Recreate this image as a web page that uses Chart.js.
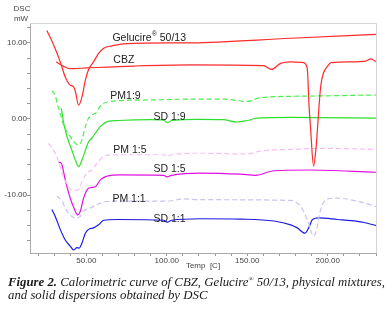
<!DOCTYPE html>
<html>
<head>
<meta charset="utf-8">
<script src="https://cdn.jsdelivr.net/npm/chart.js@4"></script>
<style>
    html, body { margin: 0; padding: 0; background: #fff; }
    #wrap { position: relative; width: 389px; height: 313px; }
    #caption {
        position: absolute; left: 8px; top: 276px;
        font: italic 12.8px "Liberation Serif", "Times New Roman", serif;
        line-height: 12.5px; color: #1a1a1a; white-space: nowrap;
    }
    #caption sup { font-size: 6.5px; line-height: 0; }
</style>
</head>
<body>
<div id="wrap">
    <canvas id="dsc" width="389" height="313"></canvas>
    <div id="caption"><b>Figure 2.</b> Calorimetric curve of CBZ, Gelucire<sup>®</sup> 50/13, physical mixtures,<br>and solid dispersions obtained by DSC</div>
</div>
<script>
(function () {
    "use strict";

    // [temp C, heat flow mW]
    const gelucire = [[25.5, 11.6], [29.5, 9.8], [33.8, 7.5], [36.9, 5.5], [39.6, 4.5], [42.1, 4.2], [43.2, 3.6], [45.2, 1.8], [47.3, 2.9], [49.4, 5.1], [51.4, 6.5], [54.5, 7.5], [57.6, 8.6], [60.8, 9.3], [66, 9.6], [75, 9.9], [115, 10.0], [177, 10.6], [230, 11.1]];
    const cbz = [[31.3, 7.5], [35.9, 6.9], [40, 6.6], [50.4, 6.7], [80, 6.95], [115, 7.1], [160, 7.0], [165, 6.5], [170.7, 7.3], [177, 7.5], [185, 7.4], [187.3, 6.6], [188.3, 2.1], [189.4, -1.4], [191.2, -6.2], [192.6, -4.1], [195.6, 4.2], [197.3, 6.0], [199.8, 6.9], [202, 7.4], [214, 7.5], [223.6, 7.6], [226.8, 7.9], [230, 7.5]];
    const pm19 = [[28.6, 3.7], [30.7, 3.1], [32.2, 1.8], [33.8, 0.75], [35.9, -0.8], [40, -2.3], [43.2, -3.2], [45.2, -3.4], [47.3, -2.75], [49.4, -1.0], [51.4, 0.1], [53.5, 0.5], [56.6, 0.95], [57.7, 1.4], [60.8, 2.05], [64.9, 2.3], [90, 2.5], [114.7, 2.6], [135.4, 2.6], [150, 2.3], [158.3, 2.8], [187.3, 3.0], [230, 3.15]];
    const sd19 = [[34.5, 1.4], [36, -0.6], [38, -2.3], [41, -4.1], [43.2, -5.4], [45.2, -6.25], [47.3, -5.4], [49.4, -4.1], [51.4, -3.0], [53.5, -2.5], [58.7, -1.0], [63, -0.35], [70, -0.2], [90, -0.1], [98, -0.15], [100.5, -0.5], [103, -0.2], [120, -0.05], [135, -0.1], [143.7, -0.4], [150, -0.2], [156, 0.1], [177, 0.2], [230, 0.1]];
    const pm15 = [[26.5, -3.2], [30.7, -4.5], [32.8, -5.6], [35.9, -7.6], [39, -8.9], [42.1, -9.4], [45.2, -9.3], [47.3, -8.2], [50.4, -7.1], [53.5, -6.7], [56.7, -5.8], [60.8, -4.9], [67, -4.7], [98, -4.7], [100.5, -4.9], [103, -4.7], [121, -4.5], [150, -4.6], [158.3, -4.2], [177, -4.0], [197.7, -3.85], [230, -4.0]];
    const sd15 = [[32.8, -5.7], [34.4, -5.8], [36.9, -8.0], [39, -9.7], [42.1, -11.6], [44.7, -12.6], [46.3, -12.1], [48.3, -10.4], [51.4, -9.1], [55.6, -8.9], [58.7, -8.0], [62.9, -7.5], [71, -7.35], [98, -7.4], [100.2, -7.6], [103, -7.4], [121, -7.1], [145.8, -7.25], [155.2, -7.4], [166.6, -6.8], [187.3, -6.7], [230, -7.0]];
    const pm11 = [[31.7, -10.1], [34.9, -10.8], [38, -12.1], [41.1, -12.8], [44.2, -13.0], [46.3, -12.8], [48.3, -12.1], [52.5, -11.7], [58.7, -11.05], [64.9, -10.8], [100.2, -10.8], [110.5, -10.5], [121, -10.6], [177, -10.7], [183.2, -11.5], [187.3, -13.2], [191.4, -15.4], [193.1, -14.5], [195.6, -11.9], [199.8, -10.5], [206, -10.4], [218.4, -10.8], [230, -11.5]];
    const sd11 = [[28.6, -11.9], [30.7, -12.8], [33.8, -14.5], [36.9, -15.9], [40, -16.7], [42.1, -17.2], [44.2, -16.9], [45.6, -16.95], [47.3, -16.3], [49.4, -15.0], [51.4, -14.5], [54.5, -14.3], [57.6, -13.9], [60.8, -13.3], [69.1, -13.2], [98, -13.3], [100.2, -13.55], [103, -13.3], [121, -13.1], [145.8, -13.15], [166.6, -13.4], [177, -13.9], [181.1, -14.3], [185.7, -15.0], [188.4, -14.2], [190.5, -13.2], [194.6, -13.0], [206, -13.2], [218.4, -13.45], [222.5, -13.6], [230, -14.0]];

    const seriesNames = ["Gelucire 50/13", "CBZ", "PM1:9", "SD 1:9", "PM 1:5", "SD 1:5", "PM 1:1", "SD 1:1"];

    const toPts = (arr) => arr.map((p) => ({ x: p[0], y: p[1] }));

    const line = (label, arr, color, dash) => ({
        label: label,
        data: toPts(arr),
        borderColor: color,
        borderWidth: 1.2,
        borderDash: dash || [],
        pointRadius: 0,
        fill: false,
        cubicInterpolationMode: "monotone",
    });

    // curve names written next to each trace, anchored in data units
    const curveLabels = [
        { text: "Gelucire", sup: "®", rest: " 50/13", x: 66.2, y: 10.6 },
        { text: "CBZ", x: 66.8, y: 7.7 },
        { text: "PM1:9", x: 64.9, y: 3.0 },
        { text: "SD 1:9", x: 91.7, y: 0.26 },
        { text: "PM 1:5", x: 66.8, y: -4.06 },
        { text: "SD 1:5", x: 91.7, y: -6.55 },
        { text: "PM 1:1", x: 66.2, y: -10.5 },
        { text: "SD 1:1", x: 91.7, y: -13.1 },
    ];

    const decor = {
        id: "decor",
        afterDatasetsDraw(chart) {
            const { ctx, chartArea: a, scales } = chart;
            ctx.save();
            // frame top/right
            ctx.strokeStyle = "#d4d4d4";
            ctx.lineWidth = 1;
            ctx.beginPath();
            ctx.moveTo(a.left, a.top + 0.5);
            ctx.lineTo(a.right + 0.5, a.top + 0.5);
            ctx.lineTo(a.right + 0.5, a.bottom);
            ctx.stroke();

            ctx.fillStyle = "#222";
            ctx.textBaseline = "middle";
            ctx.textAlign = "left";
            curveLabels.forEach((l) => {
                const px = scales.x.getPixelForValue(l.x);
                const py = scales.y.getPixelForValue(l.y);
                ctx.font = '10.5px "Liberation Sans", Arial, sans-serif';
                ctx.fillText(l.text, px, py);
                if (l.sup) {
                    let w = ctx.measureText(l.text).width;
                    ctx.font = '6.5px "Liberation Sans", Arial, sans-serif';
                    ctx.fillText(l.sup, px + w + 0.5, py - 4);
                    w += ctx.measureText(l.sup).width + 0.5;
                    ctx.font = '10.5px "Liberation Sans", Arial, sans-serif';
                    ctx.fillText(l.rest, px + w, py);
                }
            });

            // y unit at top-left
            ctx.font = '8px "Liberation Sans", Arial, sans-serif';
            ctx.fillStyle = "#444";
            ctx.textAlign = "center";
            ctx.fillText("DSC", a.left - 8, a.top - 14.5);
            ctx.fillText("mW", a.left - 9, a.top - 4.5);
            ctx.restore();
        },
    };

    const tickFont = { family: '"Liberation Sans", Arial, sans-serif', size: 8 };

    new Chart(document.getElementById("dsc"), {
        type: "line",
        data: {
            datasets: [
                line(seriesNames[0], gelucire, "#ff2a2a"),
                line(seriesNames[1], cbz, "#ff2a2a"),
                line(seriesNames[2], pm19, "#4cf04c", [5, 3]),
                line(seriesNames[3], sd19, "#2ee02e"),
                line(seriesNames[4], pm15, "#f4bdf4", [5, 3]),
                line(seriesNames[5], sd15, "#e010e0"),
                line(seriesNames[6], pm11, "#c4c4f4", [5, 3]),
                line(seriesNames[7], sd11, "#1a1ae0"),
            ],
        },
        options: {
            responsive: false,
            animation: false,
            layout: { padding: { left: 0, top: 23, right: 13, bottom: 42 } },
            plugins: {
                legend: { display: false },
                tooltip: { enabled: false },
            },
            scales: {
                x: {
                    type: "linear",
                    min: 15,
                    max: 230,
                    afterBuildTicks: (s) => {
                        const t = [];
                        for (let v = 20; v <= 230; v += 10) t.push({ value: v });
                        s.ticks = t;
                    },
                    afterFit: (s) => { s.height = 18; },
                    ticks: {
                        autoSkip: false,
                        maxRotation: 0,
                        padding: 0,
                        font: tickFont,
                        color: "#444",
                        callback: (v) => (v % 50 === 0 ? v.toFixed(2) : ""),
                    },
                    grid: { drawOnChartArea: false, tickLength: 3, color: "#999" },
                    border: { color: "#aaa" },
                    title: {
                        display: true,
                        text: "Temp  [C]",
                        font: tickFont,
                        color: "#444",
                        padding: 0,
                    },
                },
                y: {
                    min: -17.6,
                    max: 12.6,
                    afterBuildTicks: (s) => {
                        const t = [];
                        for (let v = -16; v <= 12; v += 2) t.push({ value: v });
                        s.ticks = t;
                    },
                    afterFit: (s) => { s.width = 30; },
                    ticks: {
                        autoSkip: false,
                        padding: 0,
                        font: tickFont,
                        color: "#444",
                        callback: (v) => (v % 10 === 0 ? v.toFixed(2) : ""),
                    },
                    grid: { drawOnChartArea: false, tickLength: 3, color: "#999" },
                    border: { color: "#aaa" },
                },
            },
        },
        plugins: [decor],
    });
})();
</script>
</body>
</html>
